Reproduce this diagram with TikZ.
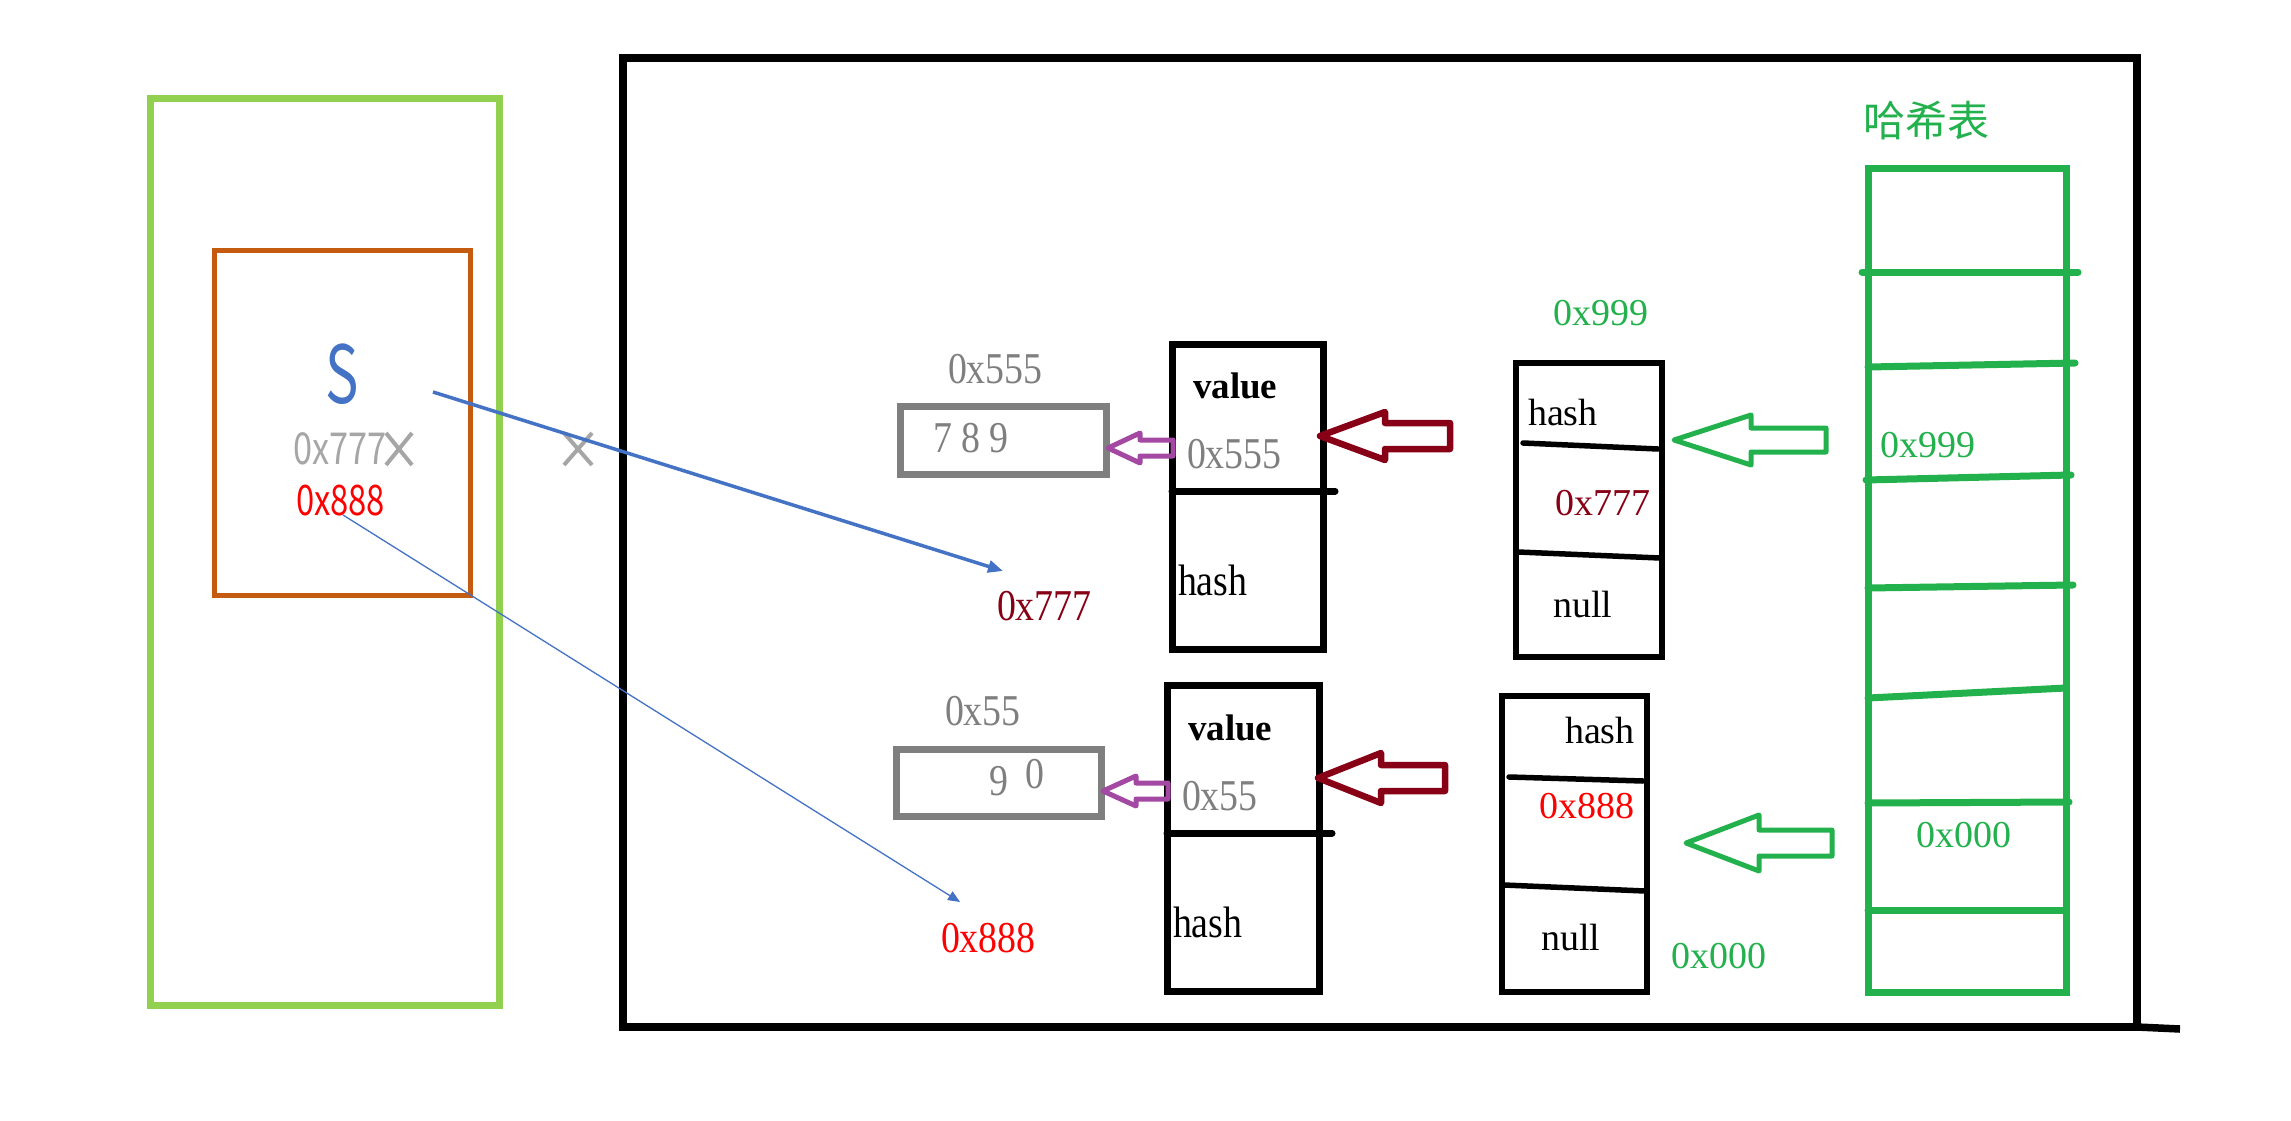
\documentclass[tikz,border=0pt]{standalone}
\usepackage{fontspec}
\setmainfont{Liberation Serif}
\newfontfamily\serifS[FakeStretch=0.86]{Liberation Serif}
\newfontfamily\cjk{Noto Sans CJK SC}
\newfontfamily\sansS[FakeStretch=0.70]{Noto Sans CJK SC}
\newfontfamily\sansN[FakeStretch=0.78]{Noto Sans CJK SC}
\usetikzlibrary{arrows.meta}
\definecolor{lgreen}{HTML}{92D050}
\definecolor{orng}{HTML}{C55A11}
\definecolor{pgreen}{HTML}{22B14C}
\definecolor{dred}{HTML}{880015}
\definecolor{pred}{HTML}{FF0000}
\definecolor{purp}{HTML}{A349A4}
\definecolor{blu}{HTML}{4472C4}
\definecolor{gtxt}{HTML}{7F7F7F}
\definecolor{lgray}{HTML}{A6A6A6}
\newcommand\hollowarrow[7]{%
  \draw[#1] (#2,#3) -- (#4,#3-#6) -- (#4,#3-#7) -- (#5,#3-#7) -- (#5,#3+#7)
    -- (#4,#3+#7) -- (#4,#3+#6) -- cycle;}
\tikzset{
  txt/.style={inner sep=0pt, outer sep=0pt, anchor=base west},
  stxt/.style={txt, font=\serifS\fontsize{44}{44}\selectfont},
  vtxt/.style={txt, font=\bfseries\fontsize{37}{37}\selectfont},
  ntxt/.style={txt, font=\fontsize{38}{38}\selectfont},
  boxn/.style={draw, inner sep=0pt, outer sep=0pt},
  thickbox/.style={boxn, line width=7pt},
  thinbox/.style={boxn, line width=5.5pt},
  divline/.style={line width=#1, line cap=round},
  parrow/.style={draw=purp, line width=5pt, line join=round},
  rarrow/.style={draw=dred, line width=6.5pt, line join=round},
  garrow/.style={draw=pgreen, line width=5pt, line join=round},
  xmark/.style={draw=lgray, line width=4pt},
}
\begin{document}
\begin{tikzpicture}[x=1pt, y=-1pt]
\useasboundingbox (0,0) rectangle (2291,1121);
\fill[white] (0,0) rectangle (2291,1121);

% left panel
\node[boxn, draw=lgreen, line width=7pt, minimum width=349pt, minimum height=906pt] (stack) at (324.5,552) {};
\node[boxn, draw=orng, line width=5pt, minimum width=256pt, minimum height=345pt] (obj) at (342,422.5) {};
\node[txt, font=\sansS\fontsize{80}{80}\selectfont, text=blu] (S) at (325,403) {S};
\node[txt, font=\sansN\fontsize{44}{44}\selectfont, text=lgray] (old) at (293,464) {0x777};
\node[txt, font=\sansN\fontsize{42}{42}\selectfont, text=pred] (new) at (296,515) {0x888};
\draw[xmark] (386,433) -- (412,465) (386,465) -- (412,433);
\draw[xmark] (564,433) -- (592,465) (564,465) -- (592,433);

% frame
\node[thickbox, line width=7.5pt, minimum width=1514pt, minimum height=969pt] (heap) at (1380,542.5) {};
\draw[line width=7.5pt] (2137,1027) -- (2180,1029);

% string objects
\node[thickbox, draw=gtxt, minimum width=206pt, minimum height=68pt] (g1) at (1003,440) {};
\node[thickbox, draw=gtxt, minimum width=205pt, minimum height=67pt] (g2) at (998.5,782.5) {};
\node[stxt, text=gtxt] (a555) at (948,383) {0x555};
\node[stxt, text=gtxt] (c789) at (933,452) {7 8 9};
\node[stxt, text=gtxt] (a55) at (945,725) {0x55};
\node[stxt, text=gtxt] (c9) at (989,795) {9};
\node[stxt, text=gtxt] (c0) at (1025,788) {0};

% entry nodes
\node[thickbox, minimum width=151pt, minimum height=305pt] (n1) at (1247.5,496.5) {};
\draw[divline=7pt] (1172,491) -- (1335,491);
\node[vtxt] (n1v) at (1193,398) {value};
\node[stxt, text=gtxt] (n1a) at (1187,468) {0x555};
\node[stxt] (n1h) at (1178,595) {hash};

\node[thickbox, minimum width=152pt, minimum height=306pt] (n2) at (1243,838) {};
\draw[divline=7pt] (1167,833) -- (1332,833);
\node[vtxt] (n2v) at (1188,740) {value};
\node[stxt, text=gtxt] (n2a) at (1182,810) {0x55};
\node[stxt] (n2h) at (1173,937) {hash};

\node[stxt, text=dred] (l777) at (997,620) {0x777};
\node[stxt, text=pred] (l888) at (941,952) {0x888};

% blue pointers
\coordinate (bs) at (433,392);
\coordinate (be) at (1003,571);
\draw[blu, line width=3.5pt, -{Triangle[length=15pt,width=12pt]}] (bs) -- (be);
\coordinate (ts) at (343,515);
\coordinate (te) at (960,902);
\draw[blu, line width=1.3pt, -{Triangle[length=12pt,width=10pt]}] (ts) -- (te);

% hollow arrows
\hollowarrow{parrow}{1108}{448}{1140}{1173}{15}{8}
\hollowarrow{parrow}{1103}{791}{1136}{1168}{15}{8}
\hollowarrow{rarrow}{1320}{436}{1385}{1450}{24}{13}
\hollowarrow{rarrow}{1318}{778}{1381}{1445}{25}{13}
\hollowarrow{garrow}{1674}{440}{1751}{1826}{25}{12}
\hollowarrow{garrow}{1686}{843}{1759}{1832}{28}{13}

% bucket nodes
\node[ntxt, text=pgreen] (b999) at (1553,325) {0x999};
\node[thinbox, minimum width=146pt, minimum height=294pt] (n3) at (1589,510) {};
\draw[divline=5.5pt] (1523,443) -- (1658,449);
\draw[divline=5.5pt] (1518,552) -- (1660,558);
\node[ntxt] (n3h) at (1528,425) {hash};
\node[ntxt, text=dred] (n3a) at (1555,515) {0x777};
\node[ntxt] (n3n) at (1553,617) {null};

\node[thinbox, minimum width=145pt, minimum height=296pt] (n4) at (1574.5,844) {};
\draw[divline=5.5pt] (1509,777) -- (1643,781);
\draw[divline=5.5pt] (1504,885) -- (1645,891);
\node[ntxt] (n4h) at (1565,743) {hash};
\node[ntxt, text=pred] (n4a) at (1539,818) {0x888};
\node[ntxt] (n4n) at (1541,950) {null};
\node[ntxt, text=pgreen] (b000) at (1671,968) {0x000};

% hash table
\node[txt, font=\cjk\fontsize{42}{42}\selectfont, text=pgreen] (title) at (1863,137) {哈希表};
\node[boxn, draw=pgreen, line width=7pt, minimum width=198pt, minimum height=824pt] (table) at (1967,580) {};
\begin{scope}[draw=pgreen, line width=7pt, line cap=round]
\draw (1862,272) -- (2078,272);
\draw (1868,367) -- (2075,363);
\draw (1866,480) -- (2071,475);
\draw (1868,588) -- (2073,585);
\draw (1868,698) -- (2066,688);
\draw (1868,803) -- (2069,802);
\draw (1868,910) -- (2066,910);
\end{scope}
\node[ntxt, text=pgreen] (t999) at (1880,457) {0x999};
\node[ntxt, text=pgreen] (t000) at (1916,847) {0x000};
\end{tikzpicture}
\end{document}
